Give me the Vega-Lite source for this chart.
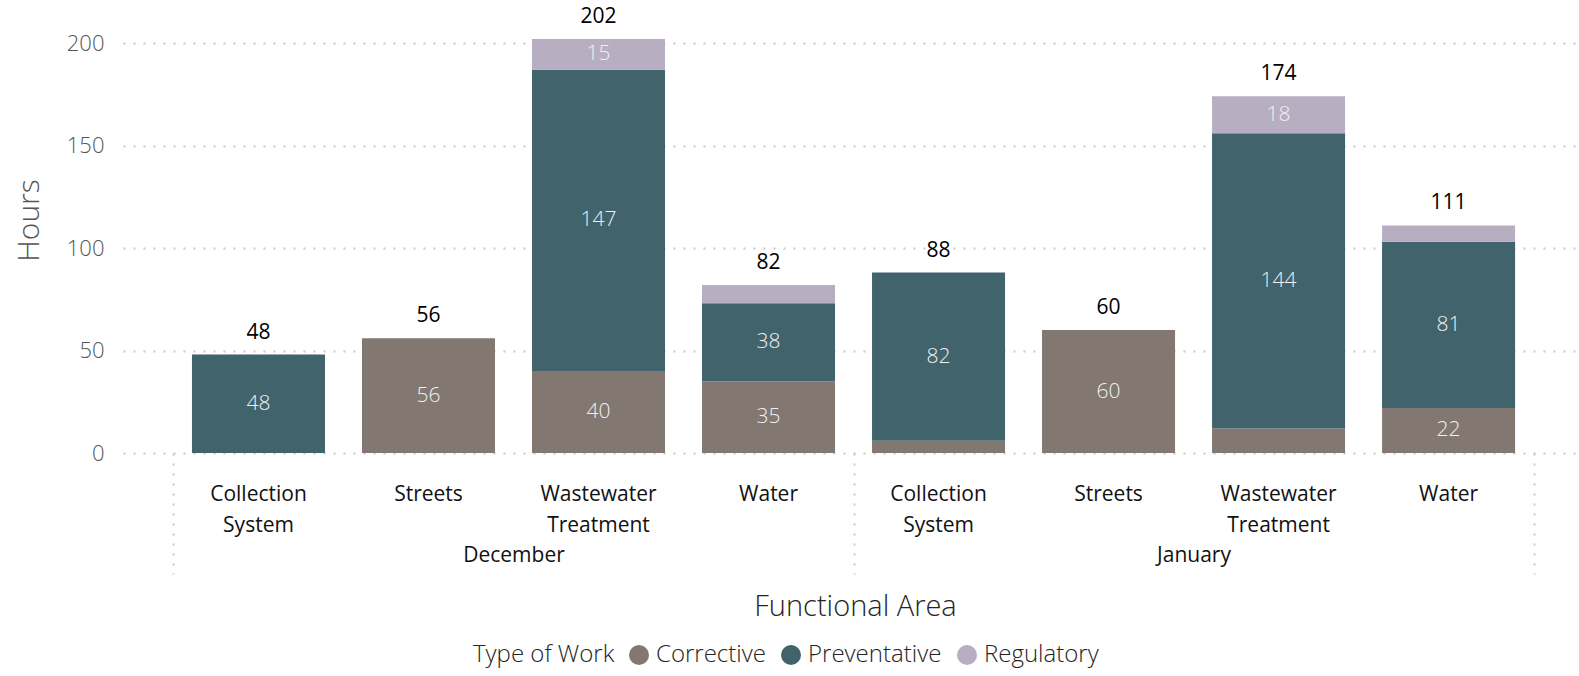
{
  "$schema": "https://vega.github.io/schema/vega-lite/v6.json",
  "width": 1453,
  "height": 453,
  "autosize": {"type": "none"},
  "padding": {"left": 123, "top": 0, "right": 3, "bottom": 223},
  "background": "white",
  "config": {
    "font": "Open Sans",
    "view": {"stroke": null},
    "axis": {"titleFontWeight": "normal"}
  },
  "data": {
    "values": [
      {"month": "December", "area": "Collection System", "slot": "December|Collection System", "type": "Preventative", "hours": 48},
      {"month": "December", "area": "Streets", "slot": "December|Streets", "type": "Corrective", "hours": 56},
      {"month": "December", "area": "Wastewater Treatment", "slot": "December|Wastewater Treatment", "type": "Corrective", "hours": 40},
      {"month": "December", "area": "Wastewater Treatment", "slot": "December|Wastewater Treatment", "type": "Preventative", "hours": 147},
      {"month": "December", "area": "Wastewater Treatment", "slot": "December|Wastewater Treatment", "type": "Regulatory", "hours": 15},
      {"month": "December", "area": "Water", "slot": "December|Water", "type": "Corrective", "hours": 35},
      {"month": "December", "area": "Water", "slot": "December|Water", "type": "Preventative", "hours": 38},
      {"month": "December", "area": "Water", "slot": "December|Water", "type": "Regulatory", "hours": 9},
      {"month": "January", "area": "Collection System", "slot": "January|Collection System", "type": "Corrective", "hours": 6},
      {"month": "January", "area": "Collection System", "slot": "January|Collection System", "type": "Preventative", "hours": 82},
      {"month": "January", "area": "Streets", "slot": "January|Streets", "type": "Corrective", "hours": 60},
      {"month": "January", "area": "Wastewater Treatment", "slot": "January|Wastewater Treatment", "type": "Corrective", "hours": 12},
      {"month": "January", "area": "Wastewater Treatment", "slot": "January|Wastewater Treatment", "type": "Preventative", "hours": 144},
      {"month": "January", "area": "Wastewater Treatment", "slot": "January|Wastewater Treatment", "type": "Regulatory", "hours": 18},
      {"month": "January", "area": "Water", "slot": "January|Water", "type": "Corrective", "hours": 22},
      {"month": "January", "area": "Water", "slot": "January|Water", "type": "Preventative", "hours": 81},
      {"month": "January", "area": "Water", "slot": "January|Water", "type": "Regulatory", "hours": 8}
    ]
  },
  "resolve": {"axis": {"x": "independent"}},
  "layer": [
    {
      "mark": {"type": "bar"},
      "encoding": {
        "x": {
          "field": "slot", "type": "nominal",
          "scale": {"type": "band", "paddingInner": 0.2176, "paddingOuter": 0.382, "align": 0.531},
          "axis": {
            "orient": "bottom",
            "title": "Functional Area",
            "titleFontSize": 29,
            "titleFontWeight": 300,
            "titleColor": "#252423",
            "titlePadding": 57,
            "titleX": 732,
            "labelExpr": "split(split(datum.value, '|')[1], ' ')",
            "labelFontSize": 21,
            "labelColor": "#111111",
            "labelLineHeight": 31,
            "labelPadding": 30,
            "labelAngle": 0,
            "labelOverlap": false,
            "labelFlush": false,
            "ticks": false,
            "domain": false,
            "grid": false
          }
        },
        "y": {
          "field": "hours", "type": "quantitative", "stack": "zero", "title": "Hours",
          "scale": {"domain": [0, 221], "nice": false},
          "axis": {
            "values": [0, 50, 100, 150, 200],
            "domain": false,
            "ticks": false,
            "labelPadding": 19,
            "labelFontSize": 22,
            "labelFontWeight": 300,
            "labelColor": "#555555",
            "titleFontSize": 30,
            "titleFontWeight": 300,
            "titleColor": "#555555",
            "titlePadding": 22,
            "titleY": 220,
            "grid": true,
            "gridColor": "#c8c8c8",
            "gridWidth": 2,
            "gridDash": [2, 8]
          }
        },
        "color": {
          "field": "type", "type": "nominal",
          "scale": {"domain": ["Corrective", "Preventative", "Regulatory"], "range": ["#827871", "#41636C", "#B7AEC2"]},
          "legend": {
            "orient": "none",
            "legendX": 350,
            "legendY": 643,
            "direction": "horizontal",
            "title": "Type of Work",
            "titleOrient": "left",
            "titleFontSize": 24,
            "titleFontWeight": 300,
            "titleColor": "#252423",
            "titlePadding": 12,
            "labelFontSize": 24,
            "labelFontWeight": 300,
            "labelColor": "#252423",
            "labelOffset": 5,
            "columnPadding": 13,
            "symbolType": "circle",
            "symbolSize": 400,
            "symbolStrokeWidth": 0,
            "symbolOpacity": 1
          }
        },
        "order": {"field": "type", "sort": "ascending"}
      }
    },
    {
      "mark": {"type": "text", "fontSize": 21, "fontWeight": 300, "color": "#F0F0F0", "baseline": "middle"},
      "encoding": {
        "x": {
          "field": "slot", "type": "nominal",
          "axis": {
            "orient": "bottom",
            "title": null,
            "labelExpr": "indexof(datum.value, 'Streets') >= 0 ? split(datum.value, '|')[0] : ''",
            "labelFontSize": 21,
            "labelColor": "#111111",
            "labelPadding": -30,
            "labelOffset": 170,
            "labelAngle": 0,
            "labelOverlap": false,
            "labelFlush": false,
            "domain": false,
            "grid": false,
            "ticks": true,
            "tickOffset": -85,
            "tickSize": 121,
            "tickWidth": 2,
            "tickDash": [2, 8],
            "tickColor": "#c8c8c8",
            "tickOpacity": {"condition": {"test": "indexof(datum.value, 'Collection') >= 0", "value": 1}, "value": 0}
          }
        },
        "y": {"field": "hours", "type": "quantitative", "stack": "zero", "bandPosition": 0.5, "title": "Hours"},
        "detail": {"field": "type"},
        "order": {"field": "type", "sort": "ascending"},
        "text": {"condition": {"test": "datum.hours < 14", "value": ""}, "field": "hours", "type": "quantitative"}
      }
    },
    {
      "mark": {"type": "text", "fontSize": 21, "color": "#000000", "baseline": "alphabetic", "dy": -16},
      "encoding": {
        "x": {
          "field": "slot", "type": "nominal",
          "axis": {
            "orient": "bottom",
            "title": null,
            "labels": false,
            "domain": false,
            "grid": false,
            "ticks": true,
            "tickOffset": 85,
            "tickSize": 121,
            "tickWidth": 2,
            "tickDash": [2, 8],
            "tickColor": "#c8c8c8",
            "tickOpacity": {"condition": {"test": "datum.value == 'January|Water'", "value": 1}, "value": 0}
          }
        },
        "y": {"aggregate": "sum", "field": "hours", "type": "quantitative", "title": "Hours"},
        "text": {"aggregate": "sum", "field": "hours", "type": "quantitative"}
      }
    }
  ]
}
